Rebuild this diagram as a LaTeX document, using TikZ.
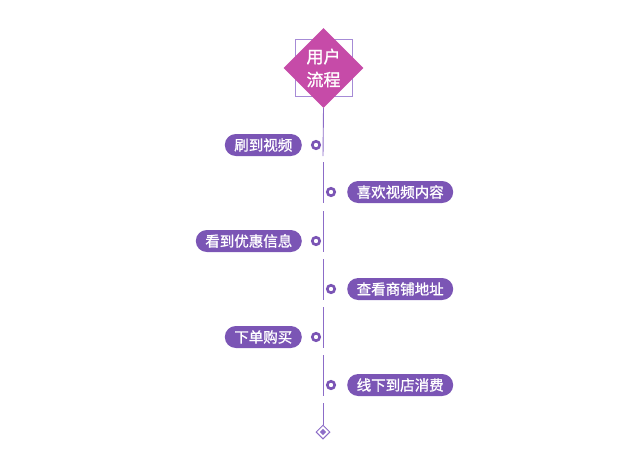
\documentclass[tikz,border=0pt]{standalone}
\usepackage{fontspec}
\setmainfont{Noto Sans CJK SC}
\newfontfamily\pillfont[FakeBold=1.2]{Noto Sans CJK SC}
\usetikzlibrary{shapes.geometric}
\definecolor{pillpurple}{HTML}{7B55B5}
\definecolor{linepurple}{HTML}{8C6CC8}
\definecolor{boxpurple}{HTML}{A68BD6}
\definecolor{topmagenta}{HTML}{C64BA8}
\tikzset{
  pill/.style={fill=pillpurple,text=white,rounded corners=11pt,minimum height=22pt,
    inner xsep=9.5pt,inner ysep=0pt,font=\pillfont\fontsize{14.5}{16}\selectfont},
  ring/.style={circle,draw=pillpurple,line width=2.6pt,fill=white,minimum size=7.5pt,inner sep=0pt},
  spine/.style={draw=linepurple,line width=0.9pt}
}
\begin{document}
\begin{tikzpicture}[x=1pt,y=-1pt]
  \useasboundingbox (0,0) rectangle (643,475);
  % title diamond
  \node[draw=boxpurple,line width=1pt,minimum size=57pt,inner sep=0pt] (frame) at (323.5,67.5) {};
  \node[diamond,fill=topmagenta,text=white,minimum width=80pt,minimum height=80pt,inner sep=0pt,
    align=center,font=\pillfont\fontsize{17}{23}\selectfont] (top) at (323.5,68) {用户\\流程};
  % steps
  \foreach \i/\y/\side/\txt in {1/145/l/刷到视频,2/192/r/喜欢视频内容,3/241/l/看到优惠信息,
      4/289/r/查看商铺地址,5/337/l/下单购买,6/385/r/线下到店消费}{
    \coordinate (a\i) at (323,\y-30);
    \coordinate (b\i) at (323,\y+11);
    \if\side l
      \node[ring] (d\i) at (316,\y) {};
      \node[pill,anchor=east] (p\i) at (302,\y) {\txt};
    \else
      \node[ring] (d\i) at (331,\y) {};
      \node[pill,anchor=west] (p\i) at (347,\y) {\txt};
    \fi
  }
  % end mark
  \node[diamond,draw=linepurple,line width=1pt,fill=white,minimum size=14pt,inner sep=0pt] (end) at (323,432) {};
  \node[diamond,fill=linepurple,minimum size=6.5pt,inner sep=0pt] at (end.center) {};
  \coordinate (a7) at (323,403);
  % spine
  \draw[spine] (top.south) -- (b1);
  \foreach \i in {2,...,6}{\draw[spine] (a\i) -- (b\i);}
  \draw[spine] (a7) -- (end.north);
\end{tikzpicture}
\end{document}
